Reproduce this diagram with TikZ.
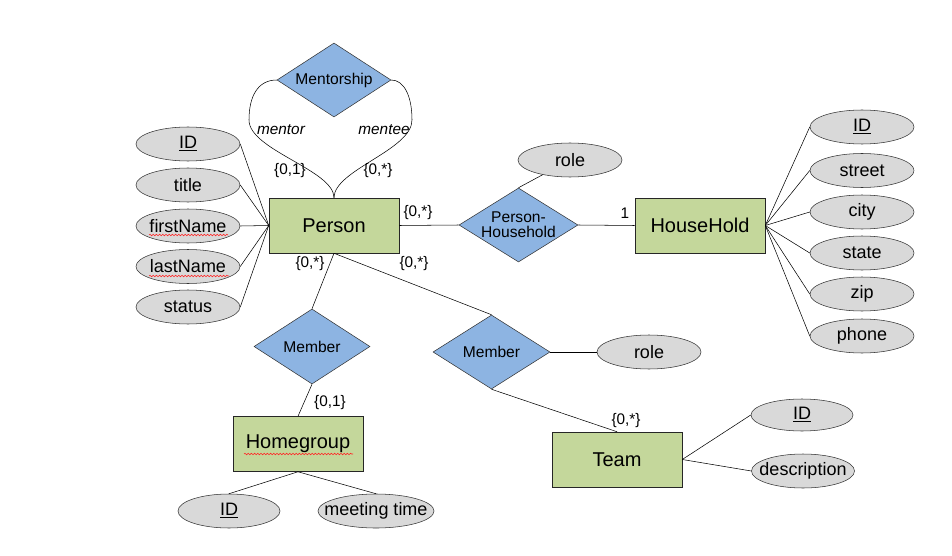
\documentclass[tikz,border=0pt]{standalone}
\usepackage{fontspec}
\setmainfont{Liberation Sans}
\usetikzlibrary{shapes.geometric,decorations.pathmorphing}
\definecolor{entitycolor}{HTML}{C4D79B}
\definecolor{relcolor}{HTML}{8DB4E2}
\definecolor{attrcolor}{HTML}{D9D9D9}
\tikzset{
    line width=0.6pt,
    % --- STYLES ---
    entity/.style={draw=black!85, fill=entitycolor, minimum width=97.5pt, minimum height=41.25pt, font=\fontsize{15}{17}\selectfont},
    % text goes in a centre label, so the shape keeps its size
    relship/.style={diamond, draw=black!80, fill=relcolor, inner sep=0pt,
                    label={[rel_text]center:#1}},
    rel_text/.style={font=\fontsize{11.7}{12.5}\selectfont, align=center, inner sep=0pt},
    attrib/.style={ellipse, draw=black!80, fill=attrcolor, inner sep=0pt, minimum width=78pt, minimum height=25.5pt,
                   label={[attr_text]center:#1}},
    attr_text/.style={font=\fontsize{13.5}{15}\selectfont, inner sep=0pt},
    card_label/.style={font=\fontsize{11.5}{13}\selectfont, inner sep=0pt},
    role_label/.style={font=\itshape\fontsize{11.5}{13}\selectfont, inner sep=0pt},
    % red spell-check marks
    spell_mark/.style={draw=red!85, line width=0.45pt, decorate, decoration={snake, amplitude=0.55pt, segment length=2.4pt}}
}

\begin{document}
\begin{tikzpicture}[x=0.75pt,y=-0.75pt]
    \useasboundingbox (0,0) rectangle (952,556);

    % entities
    \node[entity] (person) at (334,225.5) {Person};
    \node[entity] (household) at (700,225.5) {HouseHold};
    \node[entity] (homegroup) at (298,444) {Homegroup};
    \node[entity] (team) at (617,459.5) {Team};

    % relationships
    \node[relship=Mentorship, minimum width=85.5pt, minimum height=55.5pt] (mentorship) at (334,80) {};
    \node[relship={Person-\\[-1pt]Household}, minimum width=89.25pt, minimum height=55.5pt] (personhh) at (518.5,225) {};
    \node[relship=Member, minimum width=87pt, minimum height=56.25pt] (member_hg) at (312,346.5) {};
    \node[relship=Member, minimum width=87.75pt, minimum height=55.5pt] (member_tm) at (491.5,352) {};

    % person attributes
    \node[attrib=\underline{ID}] (p_id) at (188,144) {};
    \node[attrib=title] (p_title) at (188,185) {};
    \node[attrib=firstName] (p_first) at (188,226) {};
    \node[attrib=lastName] (p_last) at (188,266.5) {};
    \node[attrib=status] (p_status) at (188,307) {};

    % household attributes
    \node[attrib=\underline{ID}] (h_id) at (862,127) {};
    \node[attrib=street] (h_street) at (862,170.5) {};
    \node[attrib=city] (h_city) at (862,212) {};
    \node[attrib=state] (h_state) at (862,253) {};
    \node[attrib=zip] (h_zip) at (862,294) {};
    \node[attrib=phone] (h_phone) at (862,336) {};

    % relationship / group / team attributes
    \node[attrib=role] (ph_role) at (570,160) {};
    \node[attrib=role] (tm_role) at (649,352) {};
    \node[attrib=\underline{ID}, minimum width=76.5pt] (g_id) at (229,511) {};
    \node[attrib=meeting time, minimum width=87pt] (g_time) at (376,511) {};
    \node[attrib=\underline{ID}, minimum width=76.5pt, minimum height=24pt] (t_id) at (802,415) {};
    \node[attrib=description, minimum width=77.25pt] (t_desc) at (803,471) {};

    \foreach \a in {p_id,p_title,p_first,p_last,p_status}
      \draw (\a.east) -- (person.west);
    \foreach \a in {h_id,h_street,h_city,h_state,h_zip,h_phone}
      \draw (\a.west) -- (household.east);
    \foreach \a in {t_id,t_desc}
      \draw (\a.west) -- (team.east);
    \foreach \a in {g_id,g_time}
      \draw (\a.north) -- (homegroup.south);

    % connectors
    \draw (person.east) -- (personhh.west);
    \draw (personhh.east) -- (household.west);
    \draw (personhh.north) -- (ph_role);
    \draw (person.south) -- (member_hg.north);
    \draw (person.south) -- (member_tm.north);
    \draw (member_hg.south) -- (homegroup.north);
    \draw (member_tm.south) -- (team.north);
    \draw (member_tm.east) -- (tm_role.west);

    % mentorship loops
    \draw (person.north) .. controls (334,170) and (249,150) .. (249,120)
                         .. controls (249,96) and (258,80) .. (mentorship.west);
    \draw (person.north) .. controls (334,170) and (412,150) .. (412,120)
                         .. controls (412,96) and (404,80) .. (mentorship.east);

    % cardinalities and roles
    \node[role_label] (l_mentor) at (281,130) {mentor};
    \node[role_label] (l_mentee) at (384,130) {mentee};
    \node[card_label] (c_mentor) at (290,171) {\{0,1\}};
    \node[card_label] (c_mentee) at (378,171) {\{0,*\}};
    \node[card_label] (c_person_hh) at (418,213) {\{0,*\}};
    \node[card_label] (c_hh) at (625,213) {1};
    \node[card_label] (c_person_hg) at (310,264) {\{0,*\}};
    \node[card_label] (c_person_tm) at (414,264) {\{0,*\}};
    \node[card_label] (c_hg) at (330,403) {\{0,1\}};
    \node[card_label] (c_tm) at (626,421) {\{0,*\}};

    % spell-check underlines
    \draw[spell_mark] (149,235) -- (228,235);
    \draw[spell_mark] (149,276) -- (229,276);
    \draw[spell_mark] (244,454) -- (353,454);
\end{tikzpicture}
\end{document}
